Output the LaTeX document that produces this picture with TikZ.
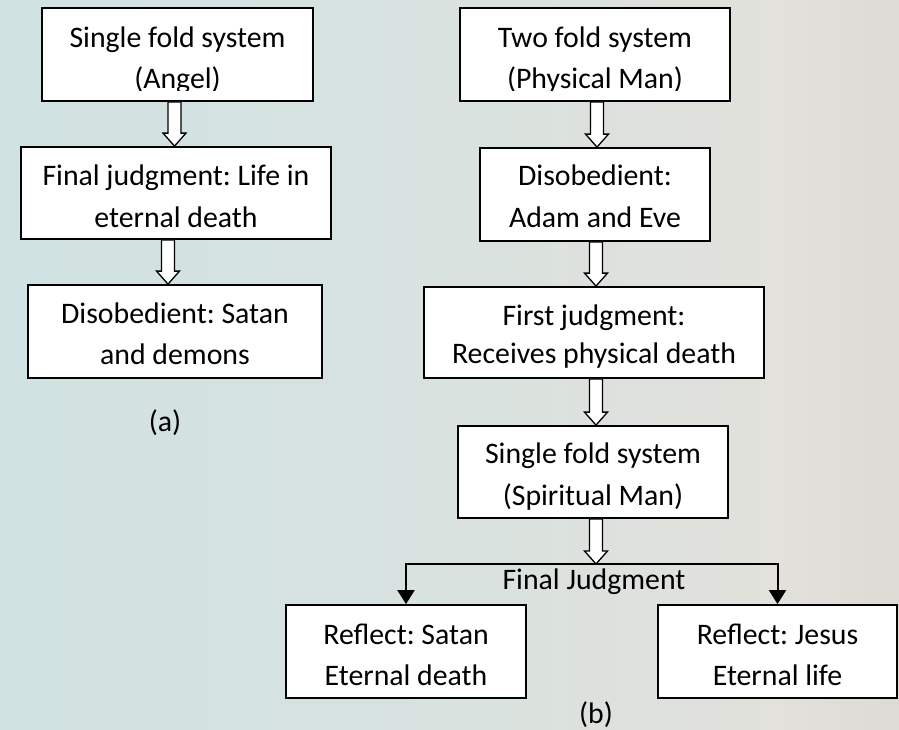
\documentclass[tikz,border=0pt]{standalone}
\usepackage{fontspec}
\setmainfont{Carlito}
\usetikzlibrary{calc,arrows.meta}
\definecolor{bgL}{HTML}{C9E3E4}
\definecolor{bgM1}{HTML}{D6E2E0}
\definecolor{bgM2}{HTML}{E2E1DC}
\definecolor{bgR}{HTML}{CFC4C0}
\pgfdeclarehorizontalshading{bgshade}{100bp}{color(0bp)=(bgL); color(45bp)=(bgM1); color(68bp)=(bgM2); color(100bp)=(bgR)}
\newcommand\blockarr[3]{%
  \draw[barrow] let \p1=#2, \p2=#3 in
    (#1pt-6.5pt,\y1) -- (#1pt+6.5pt,\y1) -- (#1pt+6.5pt,\y2+13pt) -- (#1pt+11.5pt,\y2+13pt)
    -- (#1pt,\y2) -- (#1pt-11.5pt,\y2+13pt) -- (#1pt-6.5pt,\y2+13pt) -- cycle;}
\frenchspacing
\begin{document}
\begin{tikzpicture}[x=1pt,y=-1pt,
  box/.style={draw=black, line width=1.8pt, fill=white, inner sep=0pt},
  txt/.style={anchor=base, inner sep=0pt, font=\fontsize{29.8}{36}\selectfont},
  barrow/.style={draw=black, line width=1.3pt, fill=white, line join=miter},
  conn/.style={draw=black, line width=2pt},
  carrow/.style={draw=black, line width=2pt, -{Triangle[width=17pt,length=14pt]}}]
\shade[shading=bgshade] (0,0) rectangle (899,729);
\useasboundingbox (0,0) rectangle (899,729);

% (a) column
\node[box, minimum width=271pt, minimum height=93pt] (a1) at (177.5,54.5) {};
\begin{scope}
\clip (42,8) rectangle (313,90);
\node[txt] (a1t1) at (177.5,47) {Single fold system};
\node[txt] (a1t2) at (177.5,88) {(Angel)};
\end{scope}
\node[box, minimum width=310pt, minimum height=92pt] (a2) at (176,193) {};
\node[txt] (a2t1) at (176,185) {Final judgment: Life in};
\node[txt] (a2t2) at (176,227) {eternal death};
\node[box, minimum width=294pt, minimum height=93pt] (a3) at (175,331.5) {};
\node[txt] (a3t1) at (175,323) {Disobedient: Satan};
\node[txt] (a3t2) at (175,364) {and demons};
\node[txt] (la) at (165,431) {(a)};

% (b) column
\node[box, minimum width=270pt, minimum height=93pt] (b1) at (595,54.5) {};
\begin{scope}
\clip (460,8) rectangle (730,90);
\node[txt] (b1t1) at (595,47) {Two fold system};
\node[txt] (b1t2) at (595,88) {(Physical Man)};
\end{scope}
\node[box, minimum width=230pt, minimum height=93pt] (b2) at (595,194.5) {};
\node[txt] (b2t1) at (595,185) {Disobedient:};
\node[txt] (b2t2) at (595,227) {Adam and Eve};
\node[box, minimum width=340pt, minimum height=91pt] (b3) at (594,332.5) {};
\begin{scope}
\clip (424,287) rectangle (764,367);
\node[txt] (b3t1) at (594,325) {First judgment:};
\node[txt] (b3t2) at (594,363) {Receives physical death};
\end{scope}
\node[box, minimum width=270pt, minimum height=92pt] (b4) at (593,472) {};
\node[txt] (b4t1) at (593,463) {Single fold system};
\node[txt] (b4t2) at (593,505) {(Spiritual Man)};

\node[box, minimum width=240pt, minimum height=93pt] (c1) at (406,651.5) {};
\node[txt] (c1t1) at (406,644) {Reflect: Satan};
\node[txt] (c1t2) at (406,685) {Eternal death};
\node[box, minimum width=239pt, minimum height=93pt] (c2) at (777.5,651.5) {};
\node[txt] (c2t1) at (777.5,644) {Reflect: Jesus};
\node[txt] (c2t2) at (777.5,685) {Eternal life};

\node[txt] (fj) at (594,589) {Final Judgment};
\node[txt] (lb) at (596,723) {(b)};

% block arrows
\blockarr{174.5}{(a1.south)}{(a2.north)}
\blockarr{168}{(a2.south)}{(a3.north)}
\blockarr{597}{(b1.south)}{(b2.north)}
\blockarr{596}{(b2.south)}{(b3.north)}
\blockarr{596}{(b3.south)}{(b4.north)}
\coordinate (j) at (596,564);
\blockarr{596}{(b4.south)}{(j)}

% branch
\coordinate (jl) at (406,564);
\coordinate (jr) at (777.5,564);
\draw[conn, line cap=rect] (jl) -- (jr);
\draw[carrow] (jl) -- (c1.north);
\draw[carrow] (jr) -- (c2.north);
\end{tikzpicture}
\end{document}
